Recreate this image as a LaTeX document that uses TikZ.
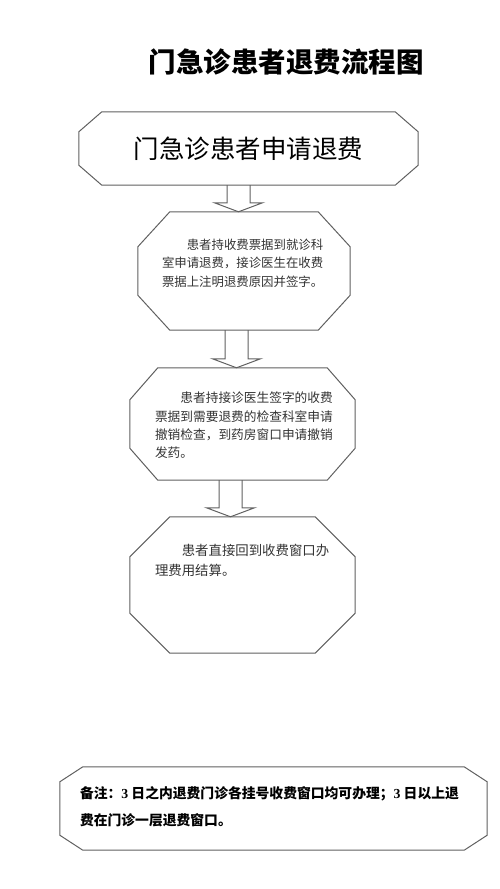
\documentclass[tikz,border=0pt]{standalone}
\usepackage{fontspec}
\setmainfont{Noto Sans CJK SC}
\newfontfamily\numfont{Liberation Serif}
\usetikzlibrary{calc}
\definecolor{edge}{HTML}{606060}
\definecolor{ink}{HTML}{333333}

\begin{document}
\begin{tikzpicture}[x=1pt,y=-1pt,
    box/.style={rectangle, inner sep=0pt},
    edgeline/.style={draw=edge, line width=1pt, line join=miter},
    txt/.style={anchor=north west, inner sep=0pt, align=left, text=ink}]
            \useasboundingbox (0,0) rectangle (500,889);
            \node[font=\fontsize{27.5}{30}\selectfont\bfseries] at (286,62) (title) {门急诊患者退费流程图};
            \node[box, minimum width=339pt, minimum height=73pt, font=\fontsize{25.5}{28}\selectfont] at (248.5,148.5) (b1) {门急诊患者申请退费};
            \node[box, minimum width=212pt, minimum height=118pt] at (244,271) (b2) {};
            \node[box, minimum width=225pt, minimum height=112pt] at (242.5,424) (b3) {};
            \node[box, minimum width=225pt, minimum height=136pt] at (242.5,585) (b4) {};
            \node[box, minimum width=427pt, minimum height=83pt] at (273.5,808.5) (b5) {};
            \foreach \b/\cx/\cy in {b1/23/20,b2/32/35,b3/28/32,b4/40/40,b5/23/15}
            \draw[edgeline] ([xshift=\cx pt]\b.north west) -- ([xshift=-\cx pt]\b.north east) -- ([yshift=-\cy pt]\b.north east) -- ([yshift=\cy pt]\b.south east) -- ([xshift=-\cx pt]\b.south east) -- ([xshift=\cx pt]\b.south west) -- ([yshift=\cy pt]\b.south west) -- ([yshift=-\cy pt]\b.north west) -- cycle;
            \foreach \s/\t/\dx in {b1/b2/-10,b2/b3/-7.5,b3/b4/-12}{
            \coordinate (s) at ($(\s.south)+(\dx,0)$);
            \coordinate (p) at (s |- \t.north);
            \draw[edgeline] ($(s)+(-11.5,0)$) -- ($(p)+(-11.5,-9)$) -- ($(p)+(-24,-9)$) -- (p) -- ($(p)+(24,-9)$) -- ($(p)+(11.5,-9)$) -- ($(s)+(11.5,0)$);
            }
            \node[txt, font=\fontsize{12.4}{18.5}\selectfont] at ($(b2.north west)+(24,27)$) (t2) {\hspace*{2em}患者持收费票据到就诊科\\室申请退费，接诊医生在收费\\票据上注明退费原因并签字。};
            \node[txt, font=\fontsize{12.7}{18.4}\selectfont] at ($(b3.north west)+(25,24)$) (t3) {\hspace*{2em}患者持接诊医生签字的收费\\票据到需要退费的检查科室申请\\撤销检查，到药房窗口申请撤销\\发药。};
            \node[txt, font=\fontsize{13.4}{20}\selectfont] at ($(b4.north west)+(25,27)$) (t4) {\hspace*{2em}患者直接回到收费窗口办\\理费用结算。};
            \node[txt, text=black, font=\fontsize{13.8}{27}\selectfont\bfseries] at ($(b5.north west)+(20,19)$) (t5) {备注：{\numfont 3} 日之内退费门诊各挂号收费窗口均可办理；{\numfont 3} 日以上退\\费在门诊一层退费窗口。};
        \end{tikzpicture}
\end{document}
